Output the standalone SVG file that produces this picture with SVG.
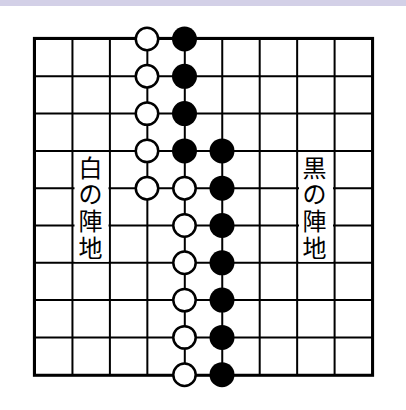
<svg xmlns="http://www.w3.org/2000/svg" width="406" height="410" viewBox="0 0 406 410">
<style>
.g{stroke:#000;stroke-width:2;fill:none}
.w{fill:#fff;stroke:#000;stroke-width:2.5}
.b{fill:#000}
.t{font-family:"Noto Sans CJK JP","Noto Sans CJK SC",sans-serif;font-size:24px;fill:#000;text-anchor:middle}
</style>
<rect x="0" y="0" width="406" height="6" fill="#d3d0e7"/>
<g id="board">
<path class="g" d="M35 39V374.5M72.45 39V374.5M109.9 39V374.5M147.35 39V374.5M184.8 39V374.5M222.25 39V374.5M259.7 39V374.5M297.15 39V374.5M334.6 39V374.5M372.05 39V374.5"/>
<path class="g" d="M35 39H372.05M35 76.3H372.05M35 113.6H372.05M35 150.9H372.05M35 188.2H372.05M35 225.5H372.05M35 262.8H372.05M35 300.1H372.05M35 337.4H372.05M35 374.7H372.05"/>
<rect x="34" y="38" width="339" height="337.7" fill="none" stroke="#000" stroke-width="2.2"/>
</g>
<g id="label-white">
<rect x="74.5" y="152.5" width="34" height="109.3" fill="#fff"/>
<text class="t" x="90.5" y="176.5">白</text>
<text class="t" x="90.5" y="203.2">の</text>
<text class="t" x="90.5" y="229.9">陣</text>
<text class="t" x="90.5" y="256.6">地</text>
</g>
<g id="label-black">
<rect x="299" y="152.5" width="34" height="109.3" fill="#fff"/>
<text class="t" x="314.5" y="176.5">黒</text>
<text class="t" x="314.5" y="203.2">の</text>
<text class="t" x="314.5" y="229.9">陣</text>
<text class="t" x="314.5" y="256.6">地</text>
</g>
<g id="white-stones">
<circle class="w" cx="147" cy="39" r="11.2"/>
<circle class="w" cx="147" cy="76.3" r="11.2"/>
<circle class="w" cx="147" cy="113.6" r="11.2"/>
<circle class="w" cx="147" cy="150.9" r="11.2"/>
<circle class="w" cx="147" cy="188.2" r="11.2"/>
<circle class="w" cx="184.5" cy="188.2" r="11.2"/>
<circle class="w" cx="184.5" cy="225.5" r="11.2"/>
<circle class="w" cx="184.5" cy="262.8" r="11.2"/>
<circle class="w" cx="184.5" cy="300.1" r="11.2"/>
<circle class="w" cx="184.5" cy="337.4" r="11.2"/>
<circle class="w" cx="184.5" cy="374.7" r="11.2"/>
</g>
<g id="black-stones">
<circle class="b" cx="184.5" cy="39" r="12.5"/>
<circle class="b" cx="184.5" cy="76.3" r="12.5"/>
<circle class="b" cx="184.5" cy="113.6" r="12.5"/>
<circle class="b" cx="184.5" cy="150.9" r="12.5"/>
<circle class="b" cx="222" cy="150.9" r="12.5"/>
<circle class="b" cx="222" cy="188.2" r="12.5"/>
<circle class="b" cx="222" cy="225.5" r="12.5"/>
<circle class="b" cx="222" cy="262.8" r="12.5"/>
<circle class="b" cx="222" cy="300.1" r="12.5"/>
<circle class="b" cx="222" cy="337.4" r="12.5"/>
<circle class="b" cx="222" cy="374.7" r="12.5"/>
</g>
</svg>
